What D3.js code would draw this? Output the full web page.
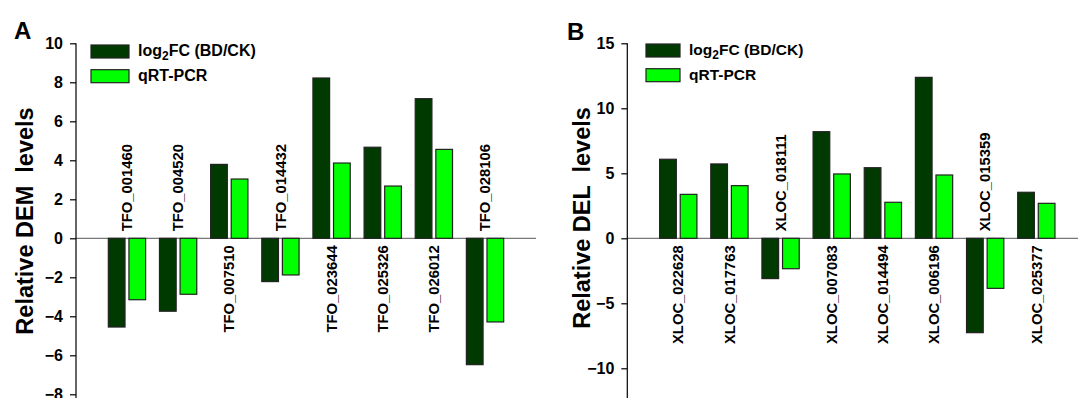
<!DOCTYPE html>
<meta charset="utf-8">
<title>DEM / DEL validation</title>
<style>
  body { margin: 0; background: #fff; }
  text { font-family: "Liberation Sans", Arial, sans-serif; font-weight: bold; }
</style>
<body>
<script src="https://d3js.org/d3.v7.min.js"></script>
<script>

var width = 1078,
    height = 398;

// panel A - DEMs
var genesA = ["TFO_001460", "TFO_004520", "TFO_007510", "TFO_014432", "TFO_023644", "TFO_025326", "TFO_026012", "TFO_028106"];
var log2fcA = [-4.55, -3.74, 3.79, -2.22, 8.22, 4.67, 7.16, -6.48];
var qpcrA = [-3.15, -2.87, 3.04, -1.88, 3.86, 2.68, 4.56, -4.29];
var ticksA = [-8, -6, -4, -2, 0, 2, 4, 6, 8, 10];

// panel B - DELs
var genesB = ["XLOC_022628", "XLOC_017763", "XLOC_018111", "XLOC_007083", "XLOC_014494", "XLOC_006196", "XLOC_015359", "XLOC_025377"];
var log2fcB = [6.08, 5.72, -3.10, 8.20, 5.43, 12.38, -7.26, 3.54];
var qpcrB = [3.38, 4.05, -2.34, 4.95, 2.77, 4.87, -3.85, 2.69];
var ticksB = [-10, -5, 0, 5, 10, 15];

var seriesNames = ["log2FC (BD/CK)", "qRT-PCR"];
var colors = ["#003a00", "#00ff00"];

var svg = d3.select("body").append("svg")
    .attr("width", width)
    .attr("height", height);

function drawPanel(p) {
  var g = svg.append("g");

  var y = d3.scaleLinear().domain(p.domain).range([p.yBottom, p.yTop]);
  var x = d3.scaleBand().domain(p.genes)
      .range([p.left, p.left + 460])
      .paddingInner(0.271)
      .paddingOuter(0.632);
  var xs = d3.scaleBand().domain([0, 1])
      .range([0, x.bandwidth()])
      .paddingInner(0.19);

  var rows = p.genes.map(function(gene, i) {
    return {gene: gene, vals: [p.fc[i], p.qp[i]]};
  });

  // zero line
  g.append("line")
      .attr("x1", p.left).attr("x2", p.left + 460)
      .attr("y1", y(0)).attr("y2", y(0))
      .attr("stroke", "#555").attr("stroke-width", 1);

  var grp = g.selectAll(".grp").data(rows).enter().append("g")
      .attr("transform", function(d) { return "translate(" + x(d.gene) + ",0)"; });

  grp.selectAll("rect").data(function(d) { return d.vals; }).enter().append("rect")
      .attr("x", function(d, i) { return xs(i); })
      .attr("width", xs.bandwidth())
      .attr("y", function(d) { return y(Math.max(0, d)); })
      .attr("height", function(d) { return Math.abs(y(d) - y(0)); })
      .attr("fill", function(d, i) { return colors[i]; })
      .attr("stroke", "#222")
      .attr("stroke-width", 1.2);

  // gene labels, on the opposite side of the zero line
  grp.append("text")
      .attr("transform", function(d) {
        var yy = d.vals[0] >= 0 ? y(0) + 7 : y(0) - 7;
        return "translate(" + (x.bandwidth() / 2) + "," + yy + ") rotate(-90)";
      })
      .attr("dy", "0.35em")
      .attr("text-anchor", function(d) { return d.vals[0] >= 0 ? "end" : "start"; })
      .style("font-size", "14.8px")
      .text(function(d) { return d.gene; });

  // y axis
  var axis = g.append("g")
      .attr("transform", "translate(" + p.left + ",0)")
      .call(d3.axisLeft(y).tickValues(p.ticks).tickSize(6).tickPadding(7).tickSizeOuter(0));
  axis.select(".domain").remove();
  axis.selectAll(".tick line").attr("stroke", "#000").attr("stroke-width", 1.2);
  axis.selectAll(".tick text")
      .style("font-size", "16px")
      .attr("fill", "#000");
  g.append("line")
      .attr("x1", p.left).attr("x2", p.left)
      .attr("y1", y(p.ticks[p.ticks.length - 1])).attr("y2", height)
      .attr("stroke", "#000").attr("stroke-width", 1.2);

  // axis title
  g.append("text")
      .attr("transform", "translate(" + p.titleX + "," + p.titleY + ") rotate(-90)")
      .attr("text-anchor", "middle")
      .attr("xml:space", "preserve")
      .style("white-space", "pre")
      .style("font-size", "23.5px")
      .text(p.title);

  // panel letter
  g.append("text")
      .attr("x", p.letterX).attr("y", p.letterY)
      .style("font-size", "24px")
      .text(p.letter);

  // legend
  var leg = g.selectAll(".leg").data(seriesNames).enter().append("g")
      .attr("transform", function(d, i) { return "translate(" + p.legX + "," + (p.legY + i * 24.7) + ")"; });
  leg.append("rect")
      .attr("width", p.legW).attr("height", 13)
      .attr("fill", function(d, i) { return colors[i]; })
      .attr("stroke", "#222").attr("stroke-width", 1.2);
  var lt = leg.append("text")
      .attr("x", p.legW + 9).attr("y", 11)
      .style("font-size", p.legFont);
  lt.filter(function(d, i) { return i == 0; })
      .each(function() {
        var t = d3.select(this);
        t.append("tspan").text("log");
        t.append("tspan").attr("dy", 4).style("font-size", "12px").text("2");
        t.append("tspan").attr("dy", -4).text("FC (BD/CK)");
      });
  lt.filter(function(d, i) { return i == 1; }).text(function(d) { return d; });
}

drawPanel({
  genes: genesA, fc: log2fcA, qp: qpcrA, ticks: ticksA,
  domain: [-8, 10], yBottom: 394.3, yTop: 43.3, left: 76,
  title: "Relative DEM  levels", titleX: 33, titleY: 221,
  letter: "A", letterX: 14, letterY: 38.5,
  legX: 91, legY: 45, legW: 38, legFont: "16px"
});

drawPanel({
  genes: genesB, fc: log2fcB, qp: qpcrB, ticks: ticksB,
  domain: [-10, 15], yBottom: 368.3, yTop: 43.3, left: 627.3,
  title: "Relative DEL  levels", titleX: 590, titleY: 218,
  letter: "B", letterX: 567, letterY: 40,
  legX: 646, legY: 44, legW: 34, legFont: "15.5px"
});

</script>
